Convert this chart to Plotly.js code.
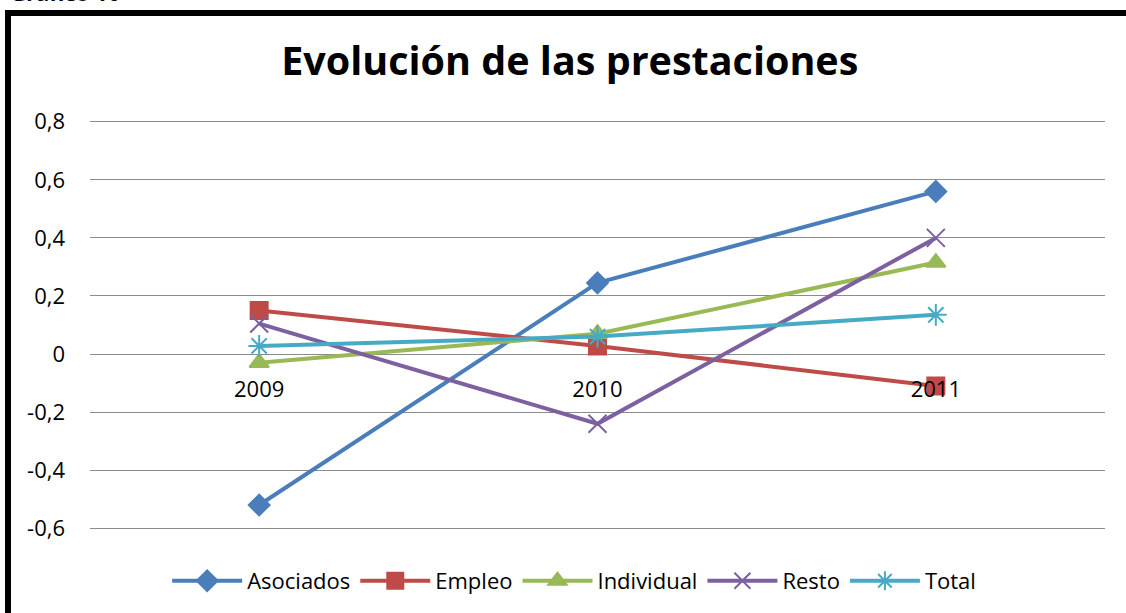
<!DOCTYPE html>
<html>
<head>
<meta charset="utf-8">
<script src="https://cdn.plot.ly/plotly-3.0.1.min.js"></script>
<style>html,body{margin:0;padding:0;background:#fff;}#chart{width:1126px;height:613px;}</style>
</head>
<body>
<div id="chart"></div>
<script>
const years = ["2009", "2010", "2011"];
const asociados = [-0.52, 0.245, 0.56];
const empleo = [0.15, 0.028, -0.11];
const individual = [-0.03, 0.07, 0.315];
const resto = [0.105, -0.24, 0.40];
const total = [0.028, 0.06, 0.135];
const seriesNames = ["Asociados", "Empleo", "Individual", "Resto", "Total"];
const yTicks = [-0.6, -0.4, -0.2, 0, 0.2, 0.4, 0.6, 0.8];
const yTickText = ["-0,6", "-0,4", "-0,2", "0", "0,2", "0,4", "0,6", "0,8"];
const chartTitle = "Evolución de las prestaciones";
const caption = "Gráfico 10";

const colors = ["#4A7EBB", "#BE4B48", "#98B954", "#7D60A0", "#46AAC5"];
const symbols = ["diamond", "square", "triangle-up", "x-thin-open", "asterisk-open"];
const sizes = [16, 17, 17, 18, 18];
const data = [asociados, empleo, individual, resto, total].map((v, i) => ({
  type: "scatter", mode: "lines+markers", name: seriesNames[i],
  x: years, y: v,
  line: {color: colors[i], width: 4},
  marker: {symbol: symbols[i], size: sizes[i], color: colors[i], line: {color: colors[i], width: 2}}
}));

const font = "'Open Sans', 'DejaVu Sans', sans-serif";
const yMin = -0.606, yMax = 0.806;
const layout = {
  width: 1126, height: 613,
  margin: {l: 90, r: 21, t: 120, b: 83, autoexpand: false},
  paper_bgcolor: "#fff", plot_bgcolor: "#fff",
  separators: ", ",
  showlegend: true,
  title: {text: "<b>" + chartTitle + "</b>", x: 0.506, xanchor: "center", y: 0.9, yanchor: "middle", yref: "container",
    font: {family: font, size: 39.5, color: "#000"}},
  xaxis: {type: "category", range: [-0.5, 2.5], anchor: "free", position: (0 - yMin) / (yMax - yMin),
    showgrid: false, showline: false, zeroline: false, ticks: "", ticklabelstandoff: 20,
    tickfont: {family: font, size: 22, color: "#000"}},
  yaxis: {range: [yMin, yMax], tickvals: yTicks, ticktext: yTickText, showgrid: true, gridcolor: "#8C8C8C", gridwidth: 1,
    zeroline: false, showline: false, ticks: "", ticklabelstandoff: 24,
    tickfont: {family: font, size: 22, color: "#000"}},
  legend: {orientation: "h", x: 0.477, xanchor: "center", y: -0.073, yanchor: "top",
    font: {family: font, size: 22, color: "#000"}, itemwidth: 70, tracegroupgap: 0},
  shapes: [{type: "rect", xref: "paper", yref: "paper",
    x0: (8 - 90) / 1015, x1: (1140 - 90) / 1015, y0: 1 - (640 - 120) / 410, y1: 1 + (120 - 13) / 410,
    line: {color: "#000", width: 6}, fillcolor: "rgba(0,0,0,0)", layer: "above"}],
  annotations: [{text: "<b>" + caption + "</b>", xref: "paper", yref: "paper",
    x: (8 - 90) / 1015, y: 1 + (120 - 9) / 410, xanchor: "left", yanchor: "bottom", showarrow: false,
    font: {family: font, size: 22, color: "#000"}}]
};
Plotly.newPlot("chart", data, layout, {displayModeBar: false});
</script>
</body>
</html>
